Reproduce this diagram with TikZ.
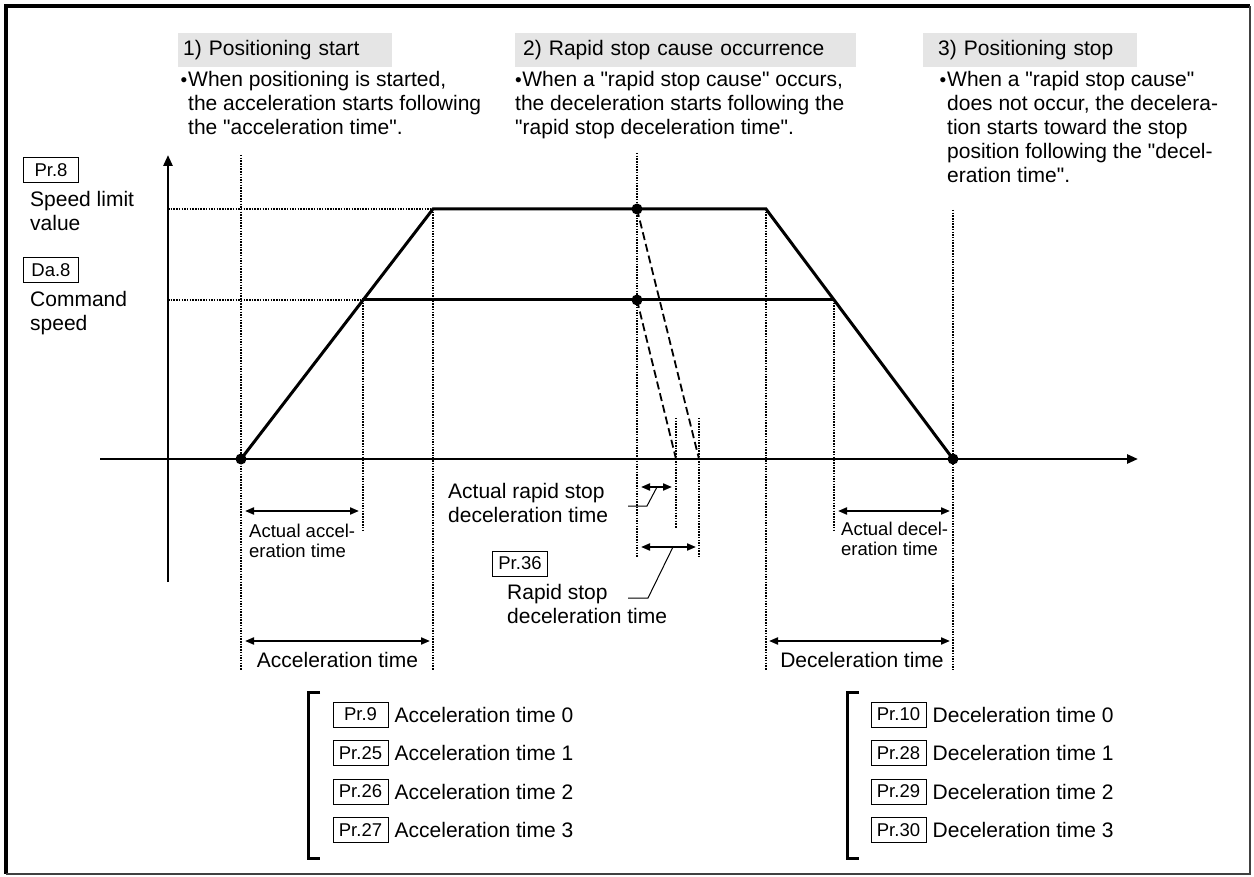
\documentclass[tikz,border=0pt]{standalone}
\usepackage{fontspec}
\defaultfontfeatures[\rmfamily]{}
\setmainfont{Liberation Sans}
\usepackage{tikz}
\usetikzlibrary{arrows.meta, positioning}
\definecolor{hdrgray}{RGB}{229,229,229}

\begin{document}
\begin{tikzpicture}[
  x=1pt, y=-1pt,
  node distance=12.5pt and 6pt,
  every node/.style={font=\fontsize{21}{24}\selectfont, inner sep=0pt},
  hdr/.style={fill=hdrgray, anchor=north west, minimum height=34pt, inner xsep=5pt, align=left},
  note/.style={anchor=base west, align=left},
  smallfont/.style={font=\fontsize{18.5}{20}\selectfont},
  prm/.style={draw, line width=1pt, minimum width=55pt, minimum height=25pt, font=\fontsize{18.5}{20}\selectfont},
  prof/.style={line width=3pt},
  axisarr/.style={line width=2.6pt, -{Triangle[length=11pt,width=9pt]}},
  guide/.style={line width=1.6pt, dash pattern=on 1.5pt off 1.2pt},
  ramp/.style={line width=1.8pt, dash pattern=on 8pt off 4pt},
  dimarr/.style={line width=2pt, {Triangle[length=9pt,width=7pt]}-{Triangle[length=9pt,width=7pt]}},
  lead/.style={line width=1pt},
  brk/.style={line width=3pt}
]
  \useasboundingbox (0,0) rectangle (1254,877);
  \draw[line width=4pt] (1250,6) -- (6,6) -- (6,874);
  \draw[line width=2.5pt, black!75] (6,874) -- (1250,874) -- (1250,6);

  % headers and notes (a note sits on the baseline of its last line)
  \node[hdr, text width=204pt] (h1) at (178,33) {1) Positioning start};
  \node[hdr, inner xsep=8pt, text width=325pt] (h2) at (515,33) {2) Rapid stop cause occurrence};
  \node[hdr, inner xsep=15pt, text width=184pt] (h3) at (923,33) {3) Positioning stop};
  \newcommand\bul{{\fontsize{19}{19}\selectfont\textbullet}}
  \node[note] (n1) at (188,135) {\llap{\bul\hspace{1pt}}When positioning is started,\\the acceleration starts following\\the "acceleration time".};
  \node[note] (n2) at (515,135) {\bul\hspace{0.5pt}When a "rapid stop cause" occurs,\\the deceleration starts following the\\"rapid stop deceleration time".};
  \node[note] (n3) at (947,183) {\llap{\bul\hspace{1pt}}When a "rapid stop cause"\\does not occur, the decelera-\\tion starts toward the stop\\position following the "decel-\\eration time".};

  \node[prm] (pr8) at (51,170) {Pr.8};
  \node[note] (slv) at (30,231) {Speed limit\\value};
  \node[prm] (da8) at (51,270) {Da.8};
  \node[note] (cmd) at (30,331) {Command\\speed};

  % profile points
  \coordinate (t0) at (241,459);
  \coordinate (t1) at (433,209);
  \coordinate (t2) at (766,209);
  \coordinate (t3) at (953,459);
  \coordinate (c1) at (362,300);
  \coordinate (c2) at (834,300);
  \coordinate (r1) at (637,209);
  \coordinate (r2) at (637,300);
  \coordinate (e1) at (676,459);
  \coordinate (e2) at (699,459);

  \foreach \x/\a/\b in {241/155/670, 433/209/670, 363/300/530, 637/153/558,
                        676/418/528, 699/418/557, 766/209/670, 834/300/530, 953/210/670}
    \draw[guide] (\x,\a) -- (\x,\b);
  \draw[guide] (168,209) -- (t1);
  \draw[guide] (168,300) -- (c1);

  \draw[axisarr] (168,582) -- (168,155);
  \draw[axisarr] (100,459) -- (1138,459);

  \draw[prof] (t0) -- (t1) -- (t2) -- (t3);
  \draw[prof] (c1) -- (c2);
  \draw[ramp] (r1) -- (e2);
  \draw[ramp] (r2) -- (e1);
  \foreach \p in {t0,t3,r1,r2}
    \fill (\p) circle (5.5pt);

  % time spans
  \draw[dimarr] (245,511) -- (359,511);
  \draw[dimarr] (245,641) -- (430,641);
  \draw[dimarr] (838,511) -- (950,511);
  \draw[dimarr] (769,641) -- (950,641);
  \draw[dimarr] (641,487) -- (672,487);
  \draw[dimarr] (641,547) -- (696,547);

  \node[note, smallfont] (aat) at (249,557) {Actual accel-\\eration time};
  \node[anchor=base] (at) at (337.5,667) {Acceleration time};
  \node[note, smallfont] (adt) at (841,555) {Actual decel-\\eration time};
  \node[anchor=base] (dt) at (862,667) {Deceleration time};
  \node[note] (arsd) at (448,522) {Actual rapid stop\\deceleration time};
  \node[prm] (pr36) at (520,563.5) {Pr.36};
  \node[note] (rsd) at (507,623) {Rapid stop\\deceleration time};
  \draw[lead] (657,487) -- (647,506) -- (628,506);
  \draw[lead] (673,547) -- (648,598) -- (628,598);

  % parameter lists
  \draw[brk] (320,692) -- (308,692) -- (308,858) -- (320,858);
  \node[prm] (p9) at (360.5,714.5) {Pr.9};
  \node[prm, below=of p9] (p25) {Pr.25};
  \node[prm, below=of p25] (p26) {Pr.26};
  \node[prm, below=of p26] (p27) {Pr.27};
  \node[right=of p9] {Acceleration time 0};
  \node[right=of p25] {Acceleration time 1};
  \node[right=of p26] {Acceleration time 2};
  \node[right=of p27] {Acceleration time 3};

  \draw[brk] (859,692) -- (847,692) -- (847,858) -- (859,858);
  \node[prm] (p10) at (898.5,714.5) {Pr.10};
  \node[prm, below=of p10] (p28) {Pr.28};
  \node[prm, below=of p28] (p29) {Pr.29};
  \node[prm, below=of p29] (p30) {Pr.30};
  \node[right=of p10] {Deceleration time 0};
  \node[right=of p28] {Deceleration time 1};
  \node[right=of p29] {Deceleration time 2};
  \node[right=of p30] {Deceleration time 3};
\end{tikzpicture}
\end{document}
